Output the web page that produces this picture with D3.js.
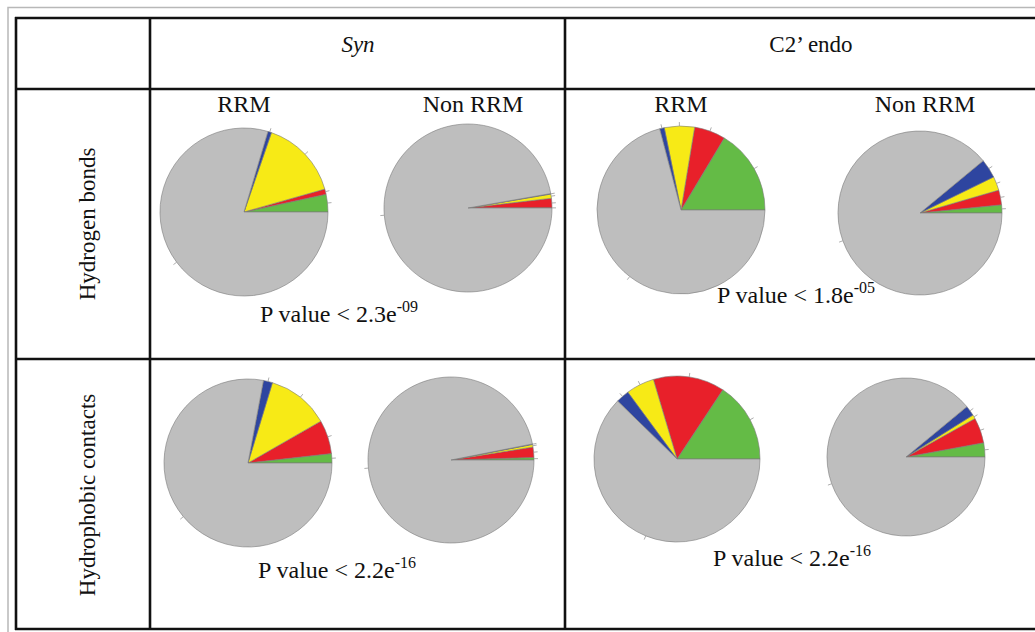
<!DOCTYPE html>
<html>
<head>
<meta charset="utf-8">
<script src="https://cdn.jsdelivr.net/npm/d3@7"></script>
<style>
  body { margin: 0; background: #fff; }
  text { font-family: "Liberation Serif", "Times New Roman", serif; fill: #111; }
</style>
</head>
<body>
<div id="chart"></div>
<script>
// data (percent of contacts per class, counter-clockwise from 3 o'clock)

var classes = ["green", "red", "yellow", "blue", "grey"];
var columns = ["Syn", "C2\u2019 endo"];
var rows = ["Hydrogen bonds", "Hydrophobic contacts"];
var groups = ["RRM", "Non RRM"];

var synHbRrm     = [3.4, 1.0, 15.3, 0.7, 79.6];
var synHbNonRrm  = [0.05, 1.8, 0.8, 0.1, 97.25];
var c2HbRrm      = [16.4, 6.0, 5.8, 0.9, 70.9];
var c2HbNonRrm   = [1.6, 2.9, 2.75, 3.75, 89.0];
var synHcRrm     = [1.8, 6.5, 12.0, 1.75, 77.95];
var synHcNonRrm  = [0.5, 2.0, 0.5, 0.1, 96.9];
var c2HcRrm      = [15.7, 13.9, 5.5, 2.6, 62.3];
var c2HcNonRrm   = [2.9, 5.2, 0.8, 2.1, 89.0];

var pMantissa = ["2.3", "1.8", "2.2", "2.2"];
var pExponent = ["-09", "-05", "-16", "-16"];

// layout

var w = 1035,
    h = 632,
    svg = d3.select("#chart")
            .append("svg")
            .attr("width", w)
            .attr("height", h);

var colours = d3.scaleOrdinal()
    .domain(classes)
    .range(["#64bb46", "#e8202a", "#f7ea16", "#2e45a0", "#bebebe"]);

// each cell: row, column, the two pies, centres and radius
var cells = [
    {r: 0, c: 0, pies: [synHbRrm, synHbNonRrm], cx: [244, 468], cy: [212, 208], rad: [84, 84], p: 0, px: 339, py: 322},
    {r: 0, c: 1, pies: [c2HbRrm, c2HbNonRrm],   cx: [681, 920], cy: [210, 213], rad: [84, 82], p: 1, px: 796, py: 303},
    {r: 1, c: 0, pies: [synHcRrm, synHcNonRrm], cx: [248, 451], cy: [463, 460], rad: [84, 83], p: 2, px: 337, py: 578},
    {r: 1, c: 1, pies: [c2HcRrm, c2HcNonRrm],   cx: [677, 906], cy: [459, 457], rad: [83, 79], p: 3, px: 792, py: 566}
];

// outer grey frame
svg.append("path")
    .attr("d", "M8," + h + "V7.5H" + w)
    .attr("fill", "none")
    .attr("stroke", "#b8b8b8")
    .attr("stroke-width", 1.5);

// table grid
var gridX = [16, 150, 565],
    gridY = [18, 89, 359, 629];

svg.selectAll("line.h")
    .data(gridY)
    .enter().append("line")
    .attr("x1", 15).attr("x2", w)
    .attr("y1", function(d) { return d; })
    .attr("y2", function(d) { return d; })
    .attr("stroke", "#111")
    .attr("stroke-width", 2.6);

svg.selectAll("line.v")
    .data(gridX)
    .enter().append("line")
    .attr("y1", 17).attr("y2", 630)
    .attr("x1", function(d) { return d; })
    .attr("x2", function(d) { return d; })
    .attr("stroke", "#111")
    .attr("stroke-width", 2.6);

// column headers
var headerX = [358, 811];
columns.forEach(function(c, i) {
    svg.append("text")
        .attr("x", headerX[i])
        .attr("y", 52)
        .attr("text-anchor", "middle")
        .attr("font-size", "23px")
        .attr("font-style", i === 0 ? "italic" : "normal")
        .text(c);
});

// row headers
var rowY = [224, 495];
rows.forEach(function(r, i) {
    svg.append("text")
        .attr("transform", "translate(95," + rowY[i] + ") rotate(-90)")
        .attr("text-anchor", "middle")
        .attr("font-size", "23px")
        .text(r);
});

// pies, drawn counter-clockwise from 3 o'clock
var pie = d3.pie()
    .sort(null)
    .value(function(d) { return d.v; })
    .startAngle(Math.PI / 2)
    .endAngle(Math.PI / 2 - 2 * Math.PI);

cells.forEach(function(cell) {
    cell.pies.forEach(function(values, k) {
        var R = cell.rad[k];
        var arc = d3.arc().innerRadius(0).outerRadius(R);
        var g = svg.append("g")
            .attr("transform", "translate(" + cell.cx[k] + "," + cell.cy[k] + ")");
        var slices = pie(values.map(function(v, i) { return {cls: classes[i], v: v}; }));

        g.selectAll("path")
            .data(slices)
            .enter().append("path")
            .attr("d", arc)
            .attr("fill", function(d) { return colours(d.data.cls); })
            .attr("stroke", "#7a7a7a")
            .attr("stroke-width", 0.6)
            .attr("stroke-linejoin", "round");

        // little label ticks at the middle of each slice
        var mid = function(d) { return (d.startAngle + d.endAngle) / 2; };
        g.selectAll("line")
            .data(slices)
            .enter().append("line")
            .attr("x1", function(d) { return R * Math.sin(mid(d)); })
            .attr("y1", function(d) { return -R * Math.cos(mid(d)); })
            .attr("x2", function(d) { return (R + 4) * Math.sin(mid(d)); })
            .attr("y2", function(d) { return -(R + 4) * Math.cos(mid(d)); })
            .attr("stroke", "#999")
            .attr("stroke-width", 0.8);

        if (cell.r === 0) {
            svg.append("text")
                .attr("x", cell.cx[k] + (k === 0 ? 0 : 5))
                .attr("y", 112)
                .attr("text-anchor", "middle")
                .attr("font-size", "24px")
                .text(groups[k]);
        }
    });

    // p value
    var t = svg.append("text")
        .attr("x", cell.px)
        .attr("y", cell.py)
        .attr("text-anchor", "middle")
        .attr("font-size", "24px");
    t.append("tspan").text("P value < " + pMantissa[cell.p] + "e");
    t.append("tspan")
        .attr("dy", -10)
        .attr("font-size", "16px")
        .text(pExponent[cell.p]);
});
</script>
</body>
</html>
